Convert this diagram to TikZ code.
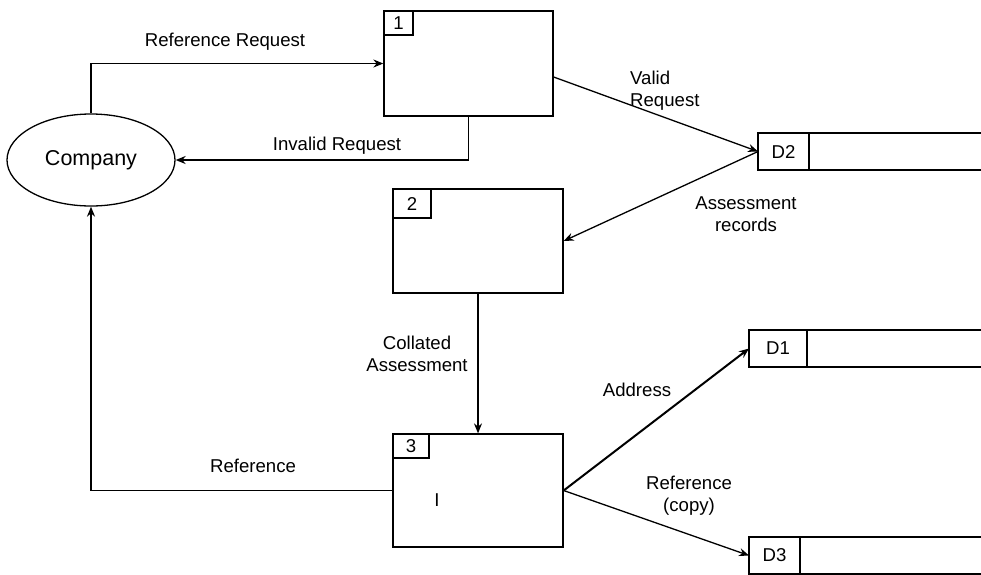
\documentclass[tikz,border=0pt]{standalone}
\usepackage{fontspec}
\setmainfont{Liberation Sans}
\usetikzlibrary{arrows.meta,shapes.geometric}
\tikzset{
  ent/.style={ellipse,draw,line width=1.3pt,minimum width=168pt,minimum height=92pt,inner sep=0pt,font=\fontsize{21.5}{25}\selectfont},
  proc/.style={draw,line width=1.3pt,inner sep=0pt},
  pnum/.style={draw,line width=1.3pt,inner sep=0pt,outer sep=0pt,anchor=north west},
  sid/.style={draw,line width=1.3pt,minimum height=37pt,inner sep=0pt,outer sep=0pt,anchor=north west},
  srest/.style={draw,line width=1.3pt,minimum height=37pt,minimum width=300pt,outer sep=0pt,anchor=west},
  fl/.style={line width=1.3pt,-{Stealth[length=10pt,width=8pt]}},
  lb/.style={inner sep=0pt},
}
\begin{document}
\begin{tikzpicture}[x=1pt,y=-1pt,every node/.style={font=\fontsize{18.6}{22}\selectfont}]
\useasboundingbox (0,0) rectangle (981,574);
\clip (0,0) rectangle (981,574);
% entity
\node[ent] (co) at (91,160) {Company};
% processes
\node[proc,minimum width=169pt,minimum height=105pt] (p1) at (468.5,63.5) {};
\node[pnum,minimum width=29pt,minimum height=24pt] (n1) at ([xshift=0.65pt,yshift=-0.65pt]p1.north west) {1};
\node[proc,minimum width=170pt,minimum height=104pt] (p2) at (478,241) {};
\node[pnum,minimum width=38pt,minimum height=29pt] (n2) at ([xshift=0.65pt,yshift=-0.65pt]p2.north west) {2};
\node[proc,minimum width=170pt,minimum height=113pt] (p3) at (478,490.5) {};
\node[pnum,minimum width=36pt,minimum height=24pt] (n3) at ([xshift=0.65pt,yshift=-0.65pt]p3.north west) {3};
\node[lb] (ix) at (437,500) {I};
% data stores
\node[sid,minimum width=51pt] (d2) at (758,133) {D2};
\node[srest] (d2r) at (d2.east) {};
\node[sid,minimum width=58pt] (d1) at (749,330) {D1};
\node[srest] (d1r) at (d1.east) {};
\node[sid,minimum width=51pt] (d3) at (749,537) {D3};
\node[srest] (d3r) at (d3.east) {};
% flows
\draw[fl] (co.north) |- (p1.west);
\draw[fl] (p1.south) |- (co.east);
\draw[fl] ([yshift=-13.5pt]p1.east) -- (d2.west);
\draw[fl] (d2.west) -- (p2.east);
\draw[fl] (p2.south) -- (p3.north);
\draw[fl] (p3.west) -| (co.south);
\draw[fl,line width=2pt] (p3.east) -- (d1.west);
\draw[fl] (p3.east) -- (d3.west);
% flow labels
\node[lb] (l1) at (225,42) {Reference Request};
\node[lb] (l2) at (337,146) {Invalid Request};
\node[lb,align=left,anchor=west] (l3) at (630,91) {Valid\\Request};
\node[lb,align=center] (l4) at (746,214) {Assessment\\records};
\node[lb,align=center] (l5) at (417,354) {Collated\\Assessment};
\node[lb] (l6) at (253,466) {Reference};
\node[lb] (l7) at (637,390) {Address};
\node[lb,align=center] (l8) at (689,496) {Reference\\(copy)};
\end{tikzpicture}
\end{document}
